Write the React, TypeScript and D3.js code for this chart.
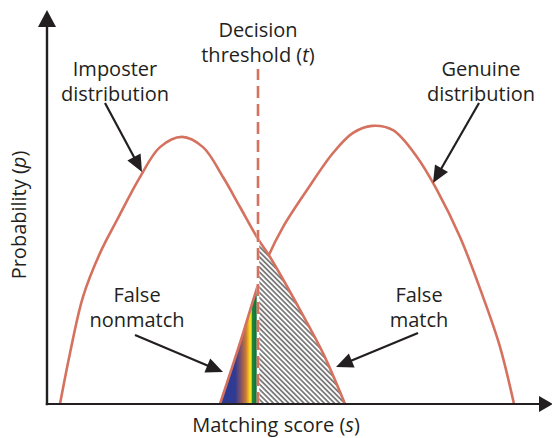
import React from 'react'
import * as d3 from 'd3'

// curves (score in arbitrary units, probability 0..1)
const imposterScore = [0.26, 0.46, 0.72, 1.06, 1.4, 1.86, 2.26, 2.7, 3.12, 3.52, 3.86, 4.22, 4.46, 5.06, 5.52, 5.96]
const imposterProb = [0, 0.129, 0.272, 0.383, 0.467, 0.576, 0.652, 0.678, 0.652, 0.576, 0.5, 0.419, 0.373, 0.239, 0.129, 0]

const genuineScore = [3.46, 3.86, 4.22, 4.42, 4.72, 5.2, 5.72, 6.12, 6.5, 6.92, 7.4, 7.8, 8.26, 8.72, 9.06, 9.34]
const genuineProb = [0, 0.155, 0.302, 0.373, 0.449, 0.543, 0.637, 0.688, 0.706, 0.695, 0.627, 0.543, 0.424, 0.272, 0.145, 0]

const threshold = 4.22
const thresholdTop = 0.85

// annotation arrows: [fromScore, fromProb, toScore, toProb]
const arrows = [
  [1.16, 0.764, 1.9, 0.589],
  [8.64, 0.764, 7.72, 0.561],
  [1.76, 0.175, 3.52, 0.081],
  [7.42, 0.18, 5.78, 0.094],
]

// labels: lines, centre score, first baseline prob
const labels = [
  { lines: ['Imposter', 'distribution'], x: 1.36, y: 0.832 },
  { lines: ['Genuine', 'distribution'], x: 8.68, y: 0.832 },
  { lines: ['False', 'nonmatch'], x: 1.8, y: 0.259 },
  { lines: ['False', 'match'], x: 7.44, y: 0.259 },
]

const W = 552
const H = 438
const CURVE = '#d5715f'
const INK = '#231f20'
const FONT = "'Open Sans', sans-serif"

export default function App() {
  const x = d3.scaleLinear().domain([0, 10]).range([47, 547])
  const y = d3.scaleLinear().domain([0, 1]).range([404, 10])

  const imposter = imposterScore.map((s, i) => [s, imposterProb[i]] as [number, number])
  const genuine = genuineScore.map((s, i) => [s, genuineProb[i]] as [number, number])

  const line = d3.line<[number, number]>()
    .x(d => x(d[0]))
    .y(d => y(d[1]))
    .curve(d3.curveCatmullRom.alpha(0.5))

  const area = d3.area<[number, number]>()
    .x(d => x(d[0]))
    .y0(y(0))
    .y1(d => y(d[1]))
    .curve(d3.curveCatmullRom.alpha(0.5))

  const xt = x(threshold)
  const gx0 = x(genuineScore[0])

  const arrowShape = (a: number[]) => {
    const x1 = x(a[0]), y1 = y(a[1]), x2 = x(a[2]), y2 = y(a[3])
    const ang = Math.atan2(y2 - y1, x2 - x1)
    const len = 17, hw = 7.5
    const bx = x2 - Math.cos(ang) * len
    const by = y2 - Math.sin(ang) * len
    const px = -Math.sin(ang) * hw, py = Math.cos(ang) * hw
    return {
      line: `M${x1},${y1}L${bx + Math.cos(ang) * 2},${by + Math.sin(ang) * 2}`,
      head: `M${x2},${y2}L${bx + px},${by + py}L${bx - px},${by - py}Z`,
    }
  }

  return (
    <svg width={W} height={H} style={{ position: 'absolute', left: 0, top: 0, background: '#fff' }}>
      <defs>
        <linearGradient id="fnm" gradientUnits="userSpaceOnUse" x1={gx0} x2={xt} y1={0} y2={0}>
          <stop offset="0" stopColor="#2b3a96" />
          <stop offset="0.4" stopColor="#303a92" />
          <stop offset="0.56" stopColor="#8a5562" />
          <stop offset="0.68" stopColor="#c97a32" />
          <stop offset="0.75" stopColor="#efb526" />
          <stop offset="0.79" stopColor="#f6e71c" />
          <stop offset="0.825" stopColor="#e9df22" />
          <stop offset="0.84" stopColor="#23873c" />
          <stop offset="1" stopColor="#0c6a35" />
        </linearGradient>
        <pattern id="hatch" width="3.6" height="3.6" patternUnits="userSpaceOnUse" patternTransform="rotate(45)">
          <rect width="3.6" height="3.6" fill="#fff" />
          <line x1="0" y1="1.8" x2="3.6" y2="1.8" stroke="#3a3a3a" strokeWidth="1.2" />
        </pattern>
        <clipPath id="leftOfT">
          <rect x={0} y={0} width={xt} height={H} />
        </clipPath>
        <clipPath id="rightOfT">
          <rect x={xt} y={0} width={W - xt} height={H} />
        </clipPath>
      </defs>

      {/* false nonmatch: genuine scores below threshold */}
      <path d={area(genuine) || ''} fill="url(#fnm)" clipPath="url(#leftOfT)" />
      <path d={line(genuine) || ''} fill="none" stroke={CURVE} strokeWidth={2.6} />

      {/* false match: imposter scores above threshold */}
      <path d={area(imposter) || ''} fill="url(#hatch)" clipPath="url(#rightOfT)" />
      <path d={line(imposter) || ''} fill="none" stroke={CURVE} strokeWidth={2.6} />

      {/* threshold */}
      <line x1={xt} x2={xt} y1={y(0)} y2={y(thresholdTop) + 20} stroke="#fff" strokeWidth={2.6} />
      <line x1={xt} x2={xt} y1={y(0)} y2={y(thresholdTop)} stroke={CURVE} strokeWidth={2.6} strokeDasharray="12 6" />

      {/* axes */}
      <line x1={x(0)} x2={x(0)} y1={y(0) + 1.2} y2={26} stroke={INK} strokeWidth={2.4} />
      <path d={`M${x(0)},10L${x(0) - 9},27L${x(0) + 9},27Z`} fill={INK} />
      <line x1={x(0) - 1.2} x2={541} y1={y(0)} y2={y(0)} stroke={INK} strokeWidth={2.2} />
      <path d={`M553,${y(0)}L539,${y(0) - 8}L539,${y(0) + 8}Z`} fill={INK} />

      {/* arrows */}
      {arrows.map((a, i) => {
        const s = arrowShape(a)
        return (
          <g key={i}>
            <path d={s.line} stroke={INK} strokeWidth={2.2} fill="none" />
            <path d={s.head} fill={INK} />
          </g>
        )
      })}

      {/* labels */}
      <g fontFamily={FONT} fontSize={20} fill={INK} textAnchor="middle">
        {labels.map((l, i) => (
          <text key={i} x={x(l.x)} y={y(l.y)}>
            {l.lines.map((t, j) => (
              <tspan key={j} x={x(l.x)} dy={j === 0 ? 0 : 25}>{t}</tspan>
            ))}
          </text>
        ))}
        <text x={xt} y={37}>Decision</text>
        <text x={xt} y={62}>threshold (<tspan fontStyle="italic">t</tspan>)</text>
        <text x={276} y={432}>Matching score (<tspan fontStyle="italic">s</tspan>)</text>
        <text transform={`translate(26,215) rotate(-90)`}>Probability (<tspan fontStyle="italic">p</tspan>)</text>
      </g>
    </svg>
  )
}
